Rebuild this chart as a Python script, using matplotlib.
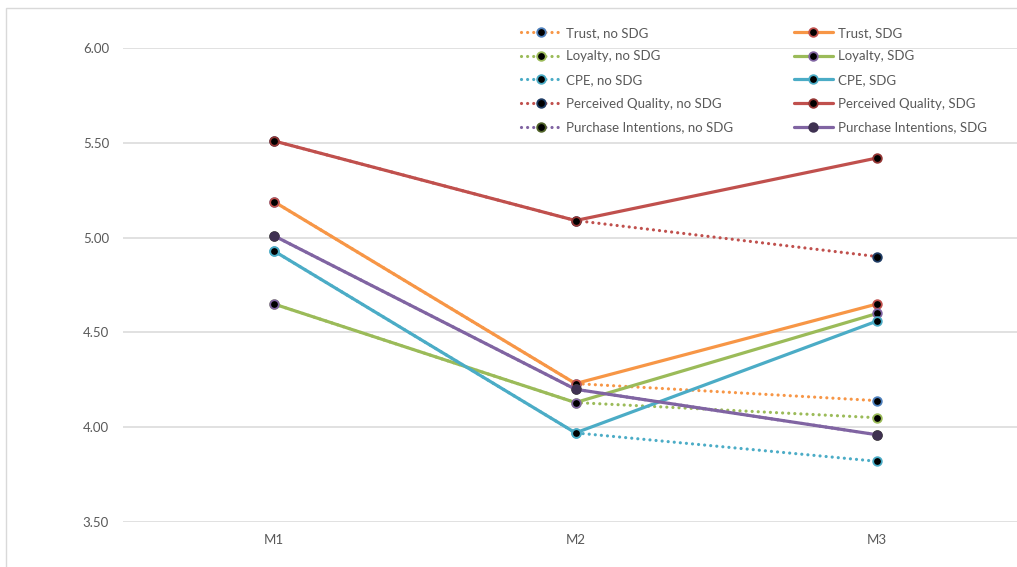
import matplotlib.pyplot as plt
from matplotlib.patches import Rectangle
import numpy as np

plt.rcParams['font.family'] = ['Lato', 'DejaVu Sans']

waves = ['M1', 'M2', 'M3']
constructs = ['Trust', 'Loyalty', 'CPE', 'Perceived Quality', 'Purchase Intentions']

# M1 and M2 are shared, the groups split at M3
no_sdg = {
    'Trust': [5.19, 4.23, 4.14],
    'Loyalty': [4.65, 4.13, 4.05],
    'CPE': [4.93, 3.97, 3.82],
    'Perceived Quality': [5.51, 5.09, 4.90],
    'Purchase Intentions': [5.01, 4.20, 3.96],
}
sdg = {
    'Trust': [5.19, 4.23, 4.65],
    'Loyalty': [4.65, 4.13, 4.60],
    'CPE': [4.93, 3.97, 4.56],
    'Perceived Quality': [5.51, 5.09, 5.42],
    'Purchase Intentions': [5.01, 4.20, 3.96],
}

line_colors = {
    'Trust': '#F79646',
    'Loyalty': '#9BBB59',
    'CPE': '#4BACC6',
    'Perceived Quality': '#C0504D',
    'Purchase Intentions': '#8064A2',
}
# (face, edge) of the markers
no_sdg_markers = {
    'Trust': ('black', '#4F81BD'),
    'Loyalty': ('black', '#9BBB59'),
    'CPE': ('black', '#4BACC6'),
    'Perceived Quality': ('black', '#1F3C64'),
    'Purchase Intentions': ('black', '#4F6228'),
}
sdg_markers = {
    'Trust': ('black', '#C0504D'),
    'Loyalty': ('black', '#8064A2'),
    'CPE': ('black', '#4BACC6'),
    'Perceived Quality': ('black', '#943634'),
    'Purchase Intentions': ('#3F3151', '#3F3151'),
}

W, H = 1017, 567
fig = plt.figure(figsize=(W / 100, H / 100), dpi=100)
fig.patches.append(Rectangle((6 / W, -0.1), 1.2, (H - 8) / H + 0.1, transform=fig.transFigure,
                             fill=False, edgecolor='#D9D9D9', linewidth=1.0))

x0, x1 = 123, 1028
y_top, y_bot = 48, 522
ax = fig.add_axes([x0 / W, (H - y_bot) / H, (x1 - x0) / W, (y_bot - y_top) / H])
x = np.arange(len(waves))

text_color = '#595959'
dotted = (0, (0.01, 1.9))
handles_no, handles_sdg = [], []
for c in constructs:
    fc, ec = no_sdg_markers[c]
    h, = ax.plot(x, no_sdg[c], color=line_colors[c], linestyle=dotted, linewidth=2.3,
                 dash_capstyle='round', marker='o', markersize=6.2, markerfacecolor=fc,
                 markeredgecolor=ec, markeredgewidth=1.3, label=c + ', no SDG', zorder=3)
    handles_no.append(h)
    fc, ec = sdg_markers[c]
    h, = ax.plot(x, sdg[c], color=line_colors[c], linewidth=2.3, solid_capstyle='round',
                 marker='o', markersize=6.2, markerfacecolor=fc, markeredgecolor=ec,
                 markeredgewidth=1.3, label=c + ', SDG', zorder=3)
    handles_sdg.append(h)

ax.set_xlim(-0.5, 2.5)
ax.set_ylim(3.5, 6.0)
ax.set_yticks(np.arange(3.5, 6.01, 0.5))
ax.set_yticklabels(['%.2f' % v for v in np.arange(3.5, 6.01, 0.5)])
ax.set_xticks(x)
ax.set_xticklabels(waves)
ax.yaxis.grid(True, color='#D9D9D9', linewidth=1.1)
ax.set_axisbelow(True)
for s in ax.spines.values():
    s.set_visible(False)
ax.tick_params(axis='both', length=0, colors=text_color, labelsize=9.5)
ax.tick_params(axis='y', pad=10)
ax.tick_params(axis='x', pad=9)

leg = fig.legend(handles=handles_no + handles_sdg, ncol=2, frameon=False,
                 loc='upper left', bbox_to_anchor=(509 / W, 1 - 15 / H),
                 fontsize=9.5, labelcolor=text_color, handlelength=3.0,
                 handletextpad=0.4, columnspacing=4.6, labelspacing=0.88)

fig.savefig('out.png', dpi=100)
